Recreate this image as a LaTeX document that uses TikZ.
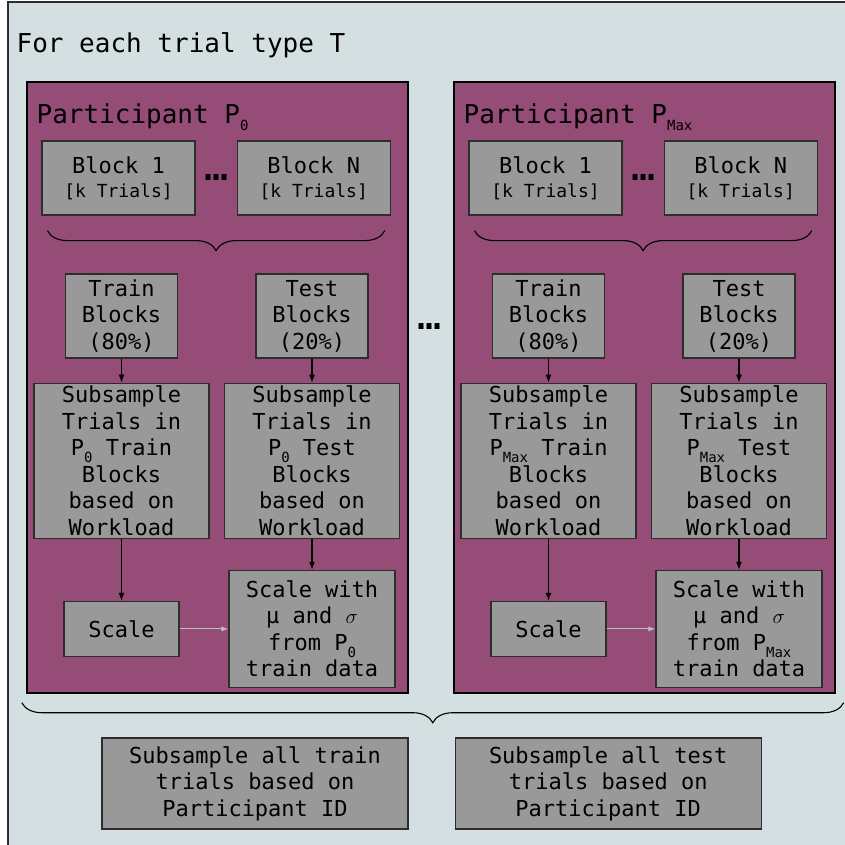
\documentclass[tikz,border=0pt]{standalone}
\usepackage{fontspec}
\setmainfont{DejaVu Sans Mono}
\usepackage{tikz}
\usetikzlibrary{arrows.meta}
\usetikzlibrary{positioning,decorations.pathreplacing}

\definecolor{bgblue}{RGB}{211,223,225}
\definecolor{plum}{RGB}{149,76,118}
\definecolor{boxgray}{RGB}{153,153,153}
\definecolor{edgegray}{RGB}{45,45,45}
\definecolor{faintgray}{RGB}{190,190,190}

\newcommand{\psub}[1]{P\raisebox{-7pt}{\fontsize{14}{14}\selectfont #1}}

\begin{document}
\begin{tikzpicture}[x=1pt,y=-1pt,>={Latex[length=8pt,width=6pt]},line width=1.2pt,
    panel/.style={draw=black,line width=1.4pt,fill=plum,inner sep=0pt,minimum width=381pt,minimum height=611pt},
    box/.style={draw=edgegray,fill=boxgray,align=center,inner sep=0pt,font=\fontsize{22}{26.5}\selectfont},
    block box/.style={box,minimum width=153pt,minimum height=74pt,font=\fontsize{22}{24}\selectfont},
    split box/.style={box,minimum width=112pt,minimum height=84pt},
    sub box/.style={box,minimum width=175pt,minimum height=155pt},
    scale node/.style={box,minimum width=115pt,minimum height=55pt},
    norm box/.style={box,minimum width=166pt,minimum height=117pt},
    pool box/.style={box,minimum width=306pt,minimum height=91pt},
    heading/.style={anchor=base west,inner sep=0pt,font=\fontsize{26}{30}\selectfont},
    dots/.style={inner sep=0pt,font=\fontsize{40}{40}\selectfont},
    curly/.style={decorate,decoration={brace,amplitude=20pt},line width=1.1pt}]

  \useasboundingbox (0,0) rectangle (845,844);
  \draw[draw=edgegray,line width=1.6pt,fill=bgblue] (8,2) rectangle (855,855);
  \node[heading] (ttl) at (16,52) {For each trial type T};

  % participant P0
  \node[panel] (pnl0) at (217.5,387.5) {};
  \node[heading] (hd0) at (36,123) {Participant \psub{0}};
  \node[block box] (blk10) at (118.5,178) {Block 1\\{\fontsize{18}{24}\selectfont [k Trials]}};
  \node[block box] (blkN0) [right=41pt of blk10] {Block N\\{\fontsize{18}{24}\selectfont [k Trials]}};
  \node[dots] (el0) [right=8.5pt of blk10] {…};
  \draw[curly] ([shift={(-6pt,-15pt)}]blkN0.south east) -- ([shift={(6pt,-15pt)}]blk10.south west);
  \node[split box] (trn0) at (121.5,316) {Train\\Blocks\\(80\%)};
  \node[split box] (tst0) at (312,316) {Test\\Blocks\\(20\%)};
  \node[sub box] (sub0) [below=24pt of trn0] {Subsample\\Trials in\\\psub{0} Train\\Blocks\\based on\\Workload};
  \node[sub box] (sut0) [below=24pt of tst0] {Subsample\\Trials in\\\psub{0} Test\\Blocks\\based on\\Workload};
  \node[scale node] (scl0) [below=62pt of sub0] {Scale};
  \node[norm box] (nrm0) [below=31pt of sut0] {Scale with\\μ and $\sigma$\\from \psub{0}\\train data};
  \draw[->] (trn0) -- (sub0);
  \draw[->] (tst0) -- (sut0);
  \draw[->] (sub0) -- (scl0);
  \draw[->] (sut0) -- (nrm0);
  \draw[->,draw=faintgray,line width=0.9pt,>={Latex[length=7pt,width=5pt]}] (scl0) -- (nrm0);

  \node[dots] (gap) at (430,327) {…};

  % participant PMax
  \node[panel] (pnlM) at (644.5,387.5) {};
  \node[heading] (hdM) at (463,123) {Participant \psub{Max}};
  \node[block box] (blk1M) at (545.5,178) {Block 1\\{\fontsize{18}{24}\selectfont [k Trials]}};
  \node[block box] (blkNM) [right=41pt of blk1M] {Block N\\{\fontsize{18}{24}\selectfont [k Trials]}};
  \node[dots] (elM) [right=8.5pt of blk1M] {…};
  \draw[curly] ([shift={(-6pt,-15pt)}]blkNM.south east) -- ([shift={(6pt,-15pt)}]blk1M.south west);
  \node[split box] (trnM) at (548.5,316) {Train\\Blocks\\(80\%)};
  \node[split box] (tstM) at (739,316) {Test\\Blocks\\(20\%)};
  \node[sub box] (subM) [below=24pt of trnM] {Subsample\\Trials in\\\psub{Max} Train\\Blocks\\based on\\Workload};
  \node[sub box] (sutM) [below=24pt of tstM] {Subsample\\Trials in\\\psub{Max} Test\\Blocks\\based on\\Workload};
  \node[scale node] (sclM) [below=62pt of subM] {Scale};
  \node[norm box] (nrmM) [below=31pt of sutM] {Scale with\\μ and $\sigma$\\from \psub{Max}\\train data};
  \draw[->] (trnM) -- (subM);
  \draw[->] (tstM) -- (sutM);
  \draw[->] (subM) -- (sclM);
  \draw[->] (sutM) -- (nrmM);
  \draw[->,draw=faintgray,line width=0.9pt,>={Latex[length=7pt,width=5pt]}] (sclM) -- (nrmM);

  % all participants
  \draw[curly] ([shift={(8pt,-9pt)}]pnlM.south east) -- ([shift={(-4.5pt,-9pt)}]pnl0.south west);
  \node[pool box] (pool1) at (255,783.5) {Subsample all train\\trials based on\\Participant ID};
  \node[pool box] (pool2) [right=46pt of pool1] {Subsample all test\\trials based on\\Participant ID};
\end{tikzpicture}
\end{document}
